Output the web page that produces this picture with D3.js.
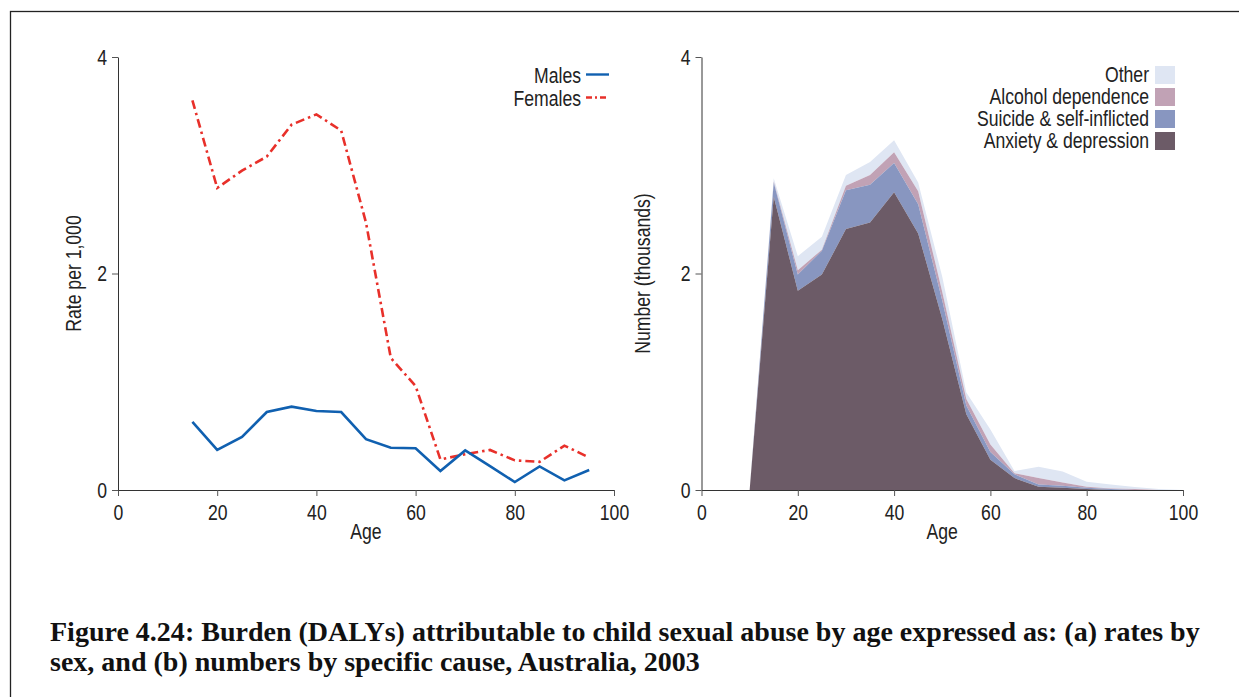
<!DOCTYPE html>
<html><head><meta charset="utf-8">
<script src="https://cdn.jsdelivr.net/npm/d3@7"></script>
<style>
body{margin:0;background:#fff;}
text{font-family:"Liberation Sans",Arial,sans-serif;fill:#222;}
.cap{font-family:"Liberation Serif","DejaVu Serif",serif;font-weight:bold;fill:#111;}
</style></head>
<body>
<script>
// ---- data ----
const rateAges = [15,20,25,30,35,40,45,50,55,60,65,70,75,80,85,90,95];
const males   = [0.63,0.37,0.49,0.72,0.77,0.73,0.72,0.47,0.39,0.385,0.175,0.366,0.22,0.074,0.218,0.089,0.185];
const females = [3.60,2.79,2.95,3.08,3.375,3.47,3.32,2.47,1.22,0.96,0.283,0.33,0.37,0.274,0.26,0.41,0.30];

const numAges = [0,5,10,15,20,25,30,35,40,45,50,55,60,65,70,75,80,85,90,95,100];
const anxiety = [0,0,0,2.71,1.84,1.99,2.41,2.47,2.75,2.37,1.58,0.70,0.28,0.11,0.03,0.02,0.01,0,0,0,0];
const suicide = [0,0,0,0.13,0.15,0.22,0.36,0.35,0.27,0.27,0.17,0.08,0.07,0.035,0.02,0.02,0.01,0.01,0,0,0];
const alcohol = [0,0,0,0.01,0.04,0.01,0.04,0.09,0.10,0.12,0.08,0.06,0.07,0.01,0.06,0.03,0.01,0.005,0.01,0,0];
const other   = [0,0,0,0.03,0.13,0.12,0.10,0.12,0.11,0.08,0.14,0.06,0.14,0.02,0.105,0.10,0.047,0.035,0.018,0.01,0];

const xTicks = [0,20,40,60,80,100];
const yTicks = [0,2,4];
const causeNames = ["Anxiety & depression","Suicide & self-inflicted","Alcohol dependence","Other"];
const causeColors = ["#6c5b67","#8896c0","#c1a2b5","#dfe6f3"];
const caption = ["Figure 4.24: Burden (DALYs) attributable to child sexual abuse by age expressed as: (a) rates by",
                 "sex, and (b) numbers by specific cause, Australia, 2003"];

// ---- drawing ----
const W=1239,H=697, SX=0.8, FS=22;
const svg=d3.select("body").append("svg").attr("width",W).attr("height",H);
svg.append("rect").attr("x",10.5).attr("y",11.5).attr("width",W).attr("height",H).attr("fill","none").attr("stroke","#222").attr("stroke-width",1.3);

function ctext(g,x,y,str,anchor,rot){
  return g.append("text").attr("transform",`translate(${x},${y}) rotate(${rot||0}) scale(${SX},1)`)
    .attr("text-anchor",anchor||"start").style("font-size",FS+"px").text(str);
}

function axes(g,x,y,label,labOff){
  const ax=g.append("g").attr("transform",`translate(0,${y(0)})`)
    .call(d3.axisBottom(x).tickValues(xTicks).tickFormat(d3.format("d")).tickSize(6).tickPadding(3).tickSizeOuter(0));
  const ay=g.append("g").attr("transform",`translate(${x(0)},0)`)
    .call(d3.axisLeft(y).tickValues(yTicks).tickFormat(d3.format("d")).tickSize(6).tickPadding(2).tickSizeOuter(0));
  [ax,ay].forEach(a=>{a.select(".domain").attr("stroke","#333");a.selectAll(".tick line").attr("stroke","#555");
    a.selectAll("text").style("font-size",FS+"px").attr("fill","#222").style("font-family",'"Liberation Sans",Arial,sans-serif');});
  ax.selectAll(".tick text").attr("transform",`scale(${SX},1)`).attr("y",14);
  ay.selectAll(".tick text").attr("transform",`scale(${SX},1)`).attr("x",-11/SX);
  ctext(g,(x.range()[0]+x.range()[1])/2,y(0)+49,"Age","middle");
  ctext(g,x(0)-labOff,(y.range()[0]+y.range()[1])/2,label,"middle",-90);
}

// left chart
const xL=d3.scaleLinear().domain([0,100]).range([118,614]);
const yL=d3.scaleLinear().domain([0,4]).range([490,57]);
const gL=svg.append("g");
const line=d3.line().x((d,i)=>xL(rateAges[i])).y(d=>yL(d));
gL.append("path").datum(females).attr("d",line).attr("fill","none").attr("stroke","#e8302a").attr("stroke-width",2.6).attr("stroke-dasharray","9,4,2.5,4");
gL.append("path").datum(males).attr("d",line).attr("fill","none").attr("stroke","#1060b0").attr("stroke-width",2.6);
axes(gL,xL,yL,"Rate per 1,000",37);
// left legend
const legL=[{n:"Males",c:"#1060b0",d:null,y:74.5},{n:"Females",c:"#e8302a",d:"6,3,2,3",y:97.5}];
legL.forEach(l=>{
  ctext(gL,581,l.y+8,l.n,"end");
  gL.append("line").attr("x1",586).attr("x2",609).attr("y1",l.y).attr("y2",l.y).attr("stroke",l.c).attr("stroke-width",2.4).attr("stroke-dasharray",l.d);
});

// right chart
const xR=d3.scaleLinear().domain([0,100]).range([701.5,1183]);
const yR=d3.scaleLinear().domain([0,4]).range([490,57]);
const gR=svg.append("g");
const table=numAges.map((a,i)=>({age:a,c0:anxiety[i],c1:suicide[i],c2:alcohol[i],c3:other[i]}));
const stack=d3.stack().keys(["c0","c1","c2","c3"])(table);
const area=d3.area().x(d=>xR(d.data.age)).y0(d=>yR(d[0])).y1(d=>yR(d[1]));
gR.selectAll("path.a").data(stack.slice().reverse()).join("path").attr("class","a")
  .attr("d",area).attr("fill",d=>causeColors[d.index]).attr("stroke","none");
axes(gR,xR,yR,"Number (thousands)",52);
// right legend
[3,2,1,0].forEach((k,i)=>{
  const yy=66+i*22;
  gR.append("rect").attr("x",1155).attr("y",yy).attr("width",20).attr("height",18).attr("fill",causeColors[k]);
  ctext(gR,1149,yy+16,causeNames[k],"end");
});

// caption
const capG=svg.append("g");
const t1=capG.append("text").attr("class","cap").attr("x",50).attr("y",641).style("font-size","22px").text(caption[0]);
const w=t1.node().getComputedTextLength();
const fs=22*1150/w;
t1.style("font-size",fs+"px");
capG.append("text").attr("class","cap").attr("x",50).attr("y",671).style("font-size",fs+"px").text(caption[1]);
</script>
</body></html>
